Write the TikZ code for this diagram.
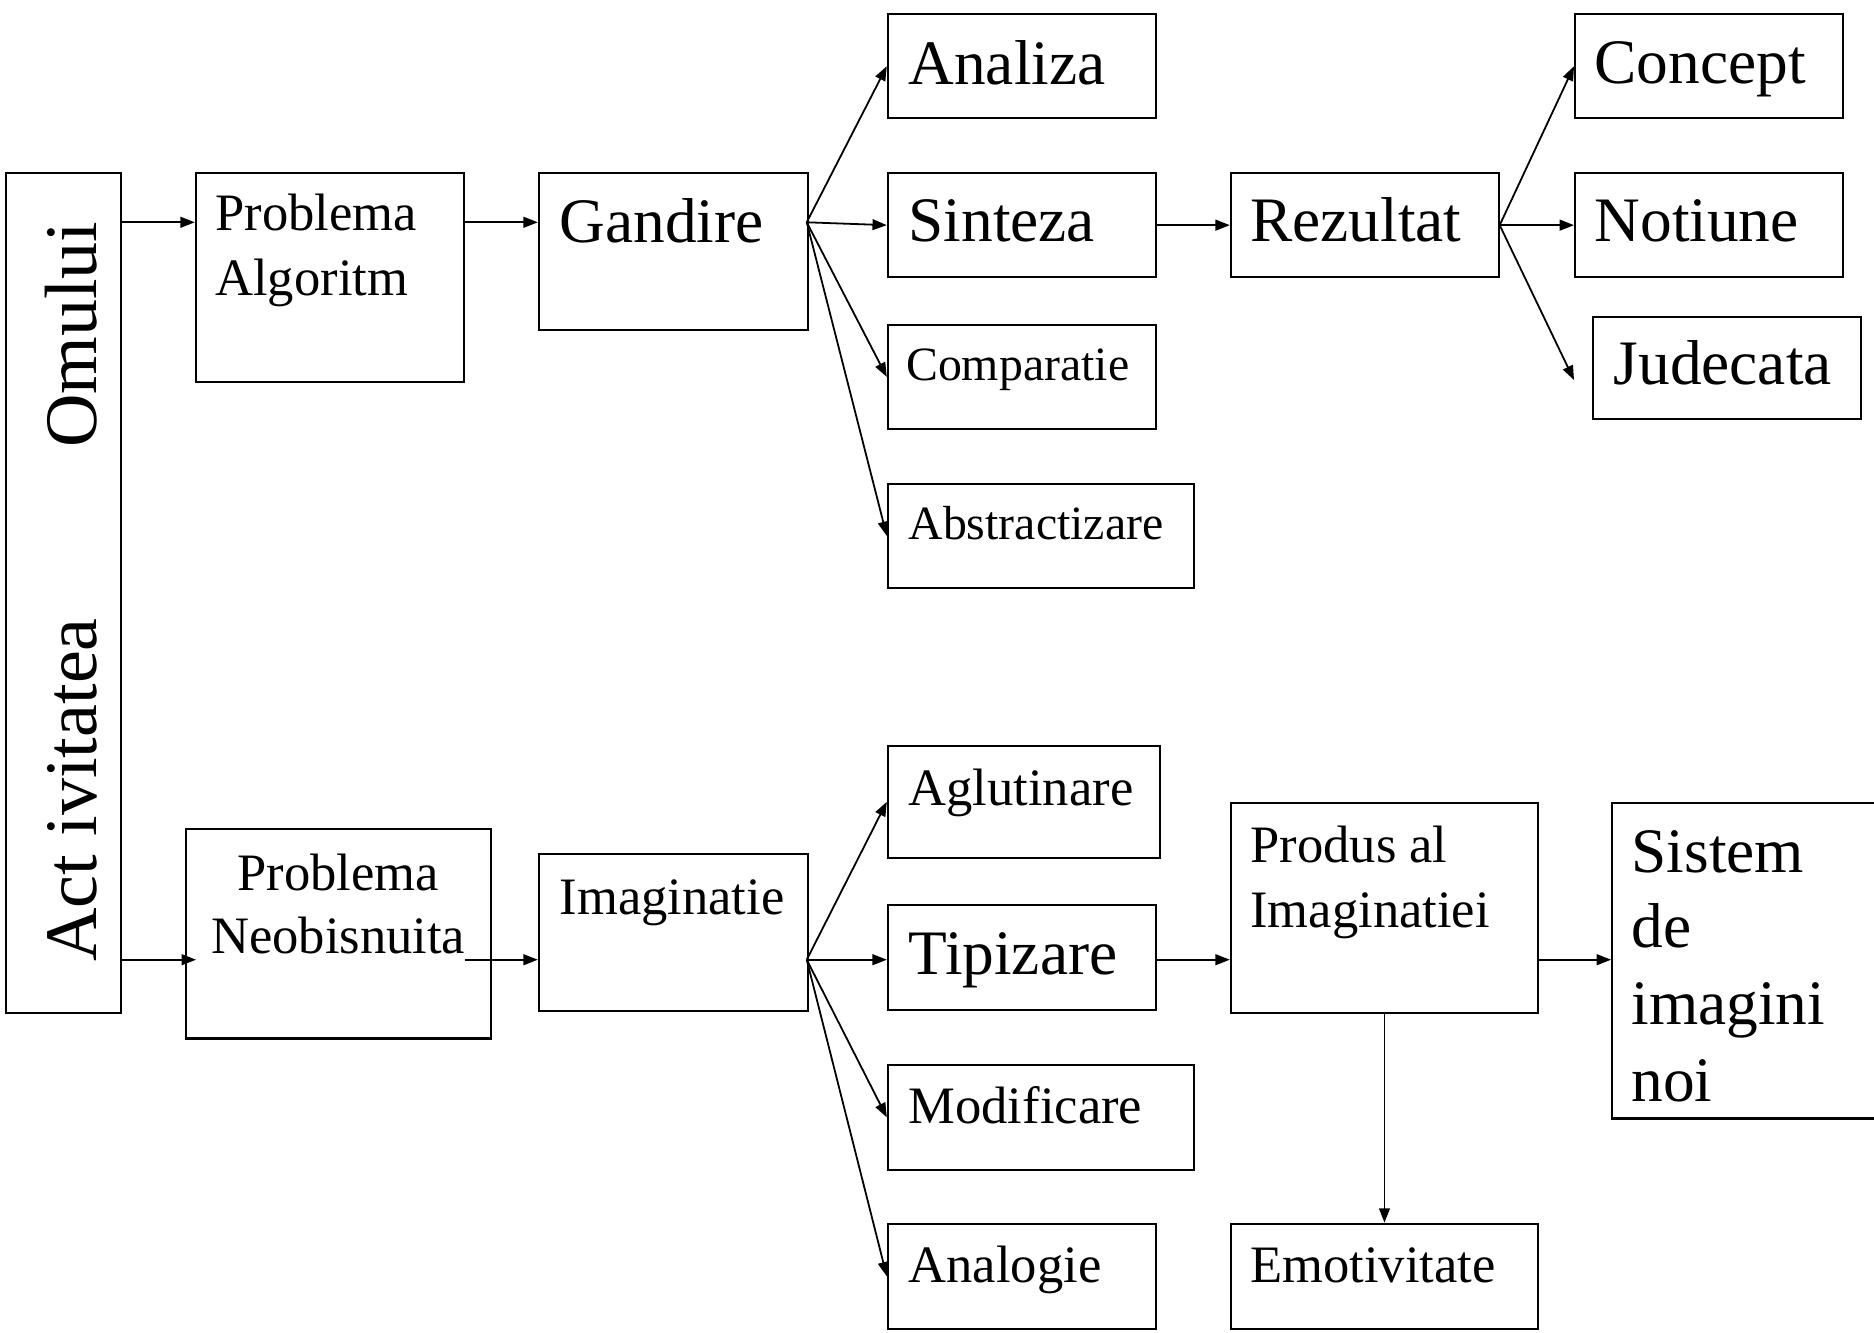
\documentclass[tikz,border=0pt]{standalone}
\usepackage{fontspec}
\setmainfont{Liberation Serif}
\usetikzlibrary{arrows.meta}
\begin{document}
\begin{tikzpicture}[x=1pt,y=-1pt,
 box/.style={draw, line width=1.8pt, rectangle, inner sep=0pt, anchor=north west},
 big/.style={font=\fontsize{53}{64}\selectfont, inner sep=0pt, anchor=base west},
 mid/.style={font=\fontsize{44}{53}\selectfont, inner sep=0pt, anchor=base west},
 sml/.style={font=\fontsize{40}{48}\selectfont, inner sep=0pt, anchor=base west},
 vert/.style={font=\fontsize{62}{74}\selectfont, inner sep=0pt, anchor=base west, rotate=90},
 arr/.style={line width=1.5pt, -{Triangle[length=12pt,width=9pt]}}]
\useasboundingbox (0,0) rectangle (1568,1115);
\clip (0,0) rectangle (1568,1115);
\fill[white] (0,0) rectangle (1568,1115);
% boxes
\node[box, minimum width=96pt, minimum height=703pt] (actv) at (4,144) {};
\node[box, minimum width=224pt, minimum height=175pt] (pa) at (163,144) {};
\node[box, minimum width=225pt, minimum height=131pt] (gand) at (450,144) {};
\node[box, minimum width=224pt, minimum height=87pt] (anal) at (742,11) {};
\node[box, minimum width=224pt, minimum height=87pt] (sint) at (742,144) {};
\node[box, minimum width=224pt, minimum height=87pt] (comp) at (742,271) {};
\node[box, minimum width=256pt, minimum height=87pt] (abst) at (742,404) {};
\node[box, minimum width=224pt, minimum height=87pt] (rez) at (1029,144) {};
\node[box, minimum width=224pt, minimum height=87pt] (conc) at (1317,11) {};
\node[box, minimum width=224pt, minimum height=87pt] (noti) at (1317,144) {};
\node[box, minimum width=224pt, minimum height=86pt] (jud) at (1332,264) {};
\node[box, minimum width=255pt, minimum height=175pt] (pn) at (155,693) {};
\node[box, minimum width=225pt, minimum height=131pt] (imag) at (450,714) {};
\node[box, minimum width=228pt, minimum height=94pt] (aglu) at (742,623) {};
\node[box, minimum width=224pt, minimum height=88pt] (tipi) at (742,756) {};
\node[box, minimum width=256pt, minimum height=88pt] (modi) at (742,890) {};
\node[box, minimum width=224pt, minimum height=88pt] (analo) at (742,1023) {};
\node[box, minimum width=257pt, minimum height=176pt] (prod) at (1029,671) {};
\node[box, minimum width=257pt, minimum height=88pt] (emot) at (1029,1023) {};
\node[box, minimum width=300pt, minimum height=264pt] (sist) at (1348,671) {};
% texts
\node[vert] (t-om) at (81,375) {Omului};
\node[vert] (t-act) at (81,805) {Act ivitatea};
\node[mid] (t-pa1) at (180,193) {Problema};
\node[mid] (t-pa2) at (180,247) {Algoritm};
\node[big] (t-gand) at (468,203) {Gandire};
\node[big] (t-anal) at (760,71) {Analiza};
\node[big] (t-sint) at (760,202) {Sinteza};
\node[sml] (t-comp) at (758,318) {Comparatie};
\node[sml] (t-abst) at (760,451) {Abstractizare};
\node[big] (t-rez) at (1046,202) {Rezultat};
\node[big] (t-conc) at (1334,70) {Concept};
\node[big] (t-noti) at (1334,202) {Notiune};
\node[big] (t-jud) at (1350,322) {Judecata};
\node[mid, anchor=base] (t-pn1) at (283,745) {Problema};
\node[mid, anchor=base] (t-pn2) at (283,798) {Neobisnuita};
\node[mid] (t-imag) at (468,765) {Imaginatie};
\node[mid] (t-aglu) at (760,674) {Aglutinare};
\node[big] (t-tipi) at (760,815) {Tipizare};
\node[mid] (t-modi) at (760,940) {Modificare};
\node[mid] (t-analo) at (760,1073) {Analogie};
\node[mid] (t-prod1) at (1046,722) {Produs al};
\node[mid] (t-prod2) at (1046,776) {Imaginatiei};
\node[mid] (t-emot) at (1046,1073) {Emotivitate};
\node[big] (t-s1) at (1365,730) {Sistem};
\node[big] (t-s2) at (1365,793) {de};
\node[big] (t-s3) at (1365,857) {imagini};
\node[big] (t-s4) at (1365,922) {noi};
% coordinates
\coordinate (go) at (675,186);
\coordinate (io) at (675,803);
\coordinate (jtip) at (1317,318);
\coordinate (pnin) at (164,803);
\coordinate (pnout) at (389,803);
% arrows top
\draw[arr] (actv.east |- go) -- (pa.west |- go);
\draw[arr] (pa.east |- go) -- (gand.west |- go);
\draw[arr] (go) -- (anal.west);
\draw[arr] (go) -- (sint.west);
\draw[arr] (go) -- (comp.west);
\draw[arr] (go) -- (abst.west);
\draw[arr] (sint.east) -- (rez.west);
\draw[arr] (rez.east) -- (conc.west);
\draw[arr] (rez.east) -- (noti.west);
\draw[arr] (rez.east) -- (jtip);
% arrows bottom
\draw[arr] (actv.east |- io) -- (pnin);
\draw[arr] (pnout) -- (imag.west |- io);
\draw[arr] (io) -- (aglu.west);
\draw[arr] (io) -- (tipi.west |- io);
\draw[arr] (io) -- (modi.west);
\draw[arr] (io) -- (analo.west);
\draw[arr] (tipi.east |- io) -- (prod.west |- io);
\draw[arr] (prod.east |- io) -- (sist.west |- io);
\draw[arr] (prod.south) -- (emot.north);
\end{tikzpicture}
\end{document}
